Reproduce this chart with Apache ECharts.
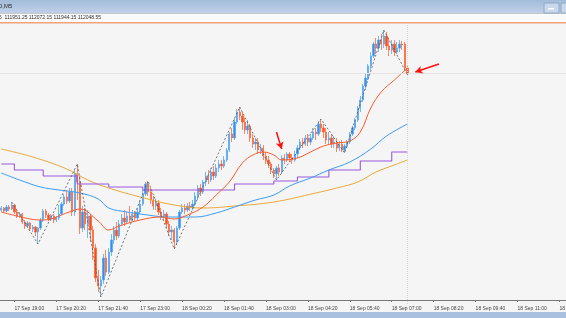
<!DOCTYPE html>
<html>
<head>
<meta charset="utf-8">
<script src="https://cdn.jsdelivr.net/npm/echarts/dist/echarts.min.js"></script>
<style>
  html, body { margin: 0; padding: 0; background: #f5f5f5; }
  #main { width: 566px; height: 318px; }
</style>
</head>
<body>
<div id="main"></div>
<script>
// M5 candles, [open, close, low, high], price in chart units
const candles = [
  [90,92,88,94],[92,89,87,93],[89,93,88,95],[93,91,89,95],[91,95,90,98],
  [95,88,86,96],[88,84,82,90],[84,86,82,88],[86,78,76,87],[78,74,71,80],
  [74,77,72,79],[77,71,69,78],[71,73,68,75],[73,68,64,74],[68,72,56,73],
  [72,80,70,82],[80,89,78,91],[89,85,82,91],[85,81,79,87],[81,84,79,86],
  [84,80,77,86],[80,82,78,84],[82,86,80,95],[86,96,85,98],[96,103,94,106],
  [103,99,96,110],[99,108,97,112],[108,88,84,112],[88,126,84,130],[126,118,100,136],
  [118,72,66,124],[72,88,68,94],[88,76,70,92],[76,84,62,90],[84,70,58,86],
  [70,52,40,74],[52,22,18,56],[22,14,8,30],[14,20,3,24],[20,42,16,46],
  [42,28,24,50],[28,48,26,52],[48,60,44,66],[60,70,56,74],[70,64,60,78],
  [64,76,62,80],[76,82,74,86],[82,78,74,90],[78,84,76,88],[84,80,77,94],
  [80,86,78,90],[86,82,79,89],[82,88,80,92],[88,96,86,100],[96,106,94,110],
  [106,116,104,118],[116,108,104,119],[108,100,96,112],[100,94,90,104],[94,97,90,101],
  [97,88,85,100],[88,84,80,92],[84,86,80,90],[86,76,72,88],[76,68,64,79],
  [68,70,60,74],[70,58,51,72],[58,72,55,74],[72,88,70,90],[88,92,86,96],
  [92,90,86,96],[90,94,88,97],[94,92,89,98],[92,96,90,100],[96,104,94,108],
  [104,112,100,115],[112,108,104,116],[108,118,106,120],[118,124,114,128],[124,120,116,130],
  [120,128,118,132],[128,124,120,134],[124,132,122,136],[132,136,128,140],[136,134,130,140],
  [134,140,132,144],[140,150,138,152],[150,166,148,168],[166,162,158,172],[162,178,160,182],
  [178,188,176,191],[188,184,180,193],[184,178,170,188],[178,170,166,182],[170,174,166,180],
  [174,162,158,176],[162,156,152,166],[156,158,150,162],[158,150,146,162],[150,152,146,156],
  [152,144,140,155],[144,140,136,148],[140,136,132,144],[136,130,126,138],[130,126,122,132],
  [126,132,120,134],[132,128,124,136],[128,142,126,145],[142,140,136,146],[140,146,138,148],
  [146,142,138,148],[142,140,136,146],[140,146,138,149],[146,152,142,155],[152,158,150,161],
  [158,156,152,162],[156,162,154,165],[162,158,154,166],[158,162,155,166],[162,168,160,172],
  [168,166,160,172],[166,176,164,179],[176,172,168,181],[172,168,162,176],[168,160,156,172],
  [160,162,156,168],[162,156,152,166],[156,158,152,164],[158,152,148,162],[152,156,149,159],
  [156,150,148,160],[150,154,147,156],[154,158,152,160],[158,166,156,168],[166,172,164,174],
  [172,180,170,182],[180,192,178,194],[192,200,188,204],[200,214,198,216],[214,222,210,226],
  [222,234,220,236],[234,244,230,248],[244,256,242,258],[256,252,246,262],[252,260,248,264],
  [260,256,250,266],[256,264,252,270],[264,254,250,268],[254,250,244,262],[250,256,246,260],
  [256,248,244,260],[248,252,246,258],[252,256,248,260],[256,255,250,259],[256,232,230,258],
  [232,226,225,234]
];

// indicator lines, [bar index, value]
const maFast = [
  [0,88],[11,81],[16,80],[26,88],[30,91],[37,79],[41,70],[45,74],[53,80],[61,83],
  [66,81],[71,85],[77,93],[82,105],[87,118],[92,137],[96,145],[100,148],[104,145],[107,140],
  [113,142],[118,148],[123,154],[128,157],[133,159],[137,168],[141,192],[145,208],[150,220],[155,232]
];
const maMid = [
  [0,127],[7,120],[15,113],[22,110],[30,107],[37,101],[41,92],[48,88],[53,86],[64,83],
  [74,83],[82,87],[89,93],[97,100],[104,105],[110,114],[118,122],[125,130],[133,138],[141,151],
  [147,164],[155,176]
];
const maSlow = [
  [0,151],[12,143],[25,131],[33,120],[41,112],[53,103],[66,95],[77,92],[89,94],[104,98],
  [120,107],[128,112],[136,118],[143,128],[150,135],[155,140]
];
const stepLine = [
  [0,136],[5,130],[16,124],[29,116],[41,113],[54,110],[89,116],[104,119],[113,123],[125,130],
  [137,139],[149,148],[155,148]
];
const zigzag = [
  [4,98],[14,56],[29,136],[38,3],[56,119],[66,51],[91,193],[105,120],[122,181],[131,147],
  [146,270],[155,225]
];
const arrows = [
  [[105,168],[107,151]],
  [[167,236],[158,228]]
];

const tickLabels = [
  '17 Sep 19:00','17 Sep 20:20','17 Sep 21:40','17 Sep 23:00','18 Sep 00:20','18 Sep 01:40',
  '18 Sep 03:00','18 Sep 04:20','18 Sep 05:40','18 Sep 07:00','18 Sep 08:20','18 Sep 09:40',
  '18 Sep 11:00','18 Sep 12:20'
];
const slotCount = 216;   // visible bar slots incl. empty space on the right
const firstTick = 5;
const tickStep = 16;

const slots = [];
for (let i = 0; i < slotCount; i++) slots.push(i);
const isTick = (i) => i >= firstTick && (i - firstTick) % tickStep === 0;

const chartDom = document.getElementById('main');
const myChart = echarts.init(chartDom, null, { renderer: 'canvas' });
let option;
option = {
  animation: false,
  backgroundColor: '#f5f5f5',
  grid: { left: 0, right: 0, top: 24, bottom: 14, containLabel: false, outerBoundsMode: 'none' },
  xAxis: {
    type: 'category',
    data: slots,
    axisLine: { lineStyle: { color: '#777', width: 1 } },
    axisTick: { show: true, alignWithLabel: true, interval: (i) => isTick(i), length: 2, lineStyle: { color: '#777' } },
    axisLabel: {
      interval: (i) => isTick(i),
      formatter: (v, i) => tickLabels[(i - firstTick) / tickStep] || '',
      align: 'left',
      margin: 2,
      fontSize: 5,
      fontFamily: 'Liberation Sans',
      color: '#444',
      hideOverlap: false
    },
    splitLine: { show: false }
  },
  yAxis: {
    type: 'value',
    min: -4,
    max: 276,
    show: false,
    splitLine: { show: false }
  },
  series: [
    {
      type: 'candlestick',
      data: candles,
      barWidth: 1.8,
      itemStyle: {
        color: '#2f90f0',
        color0: '#ff4a14',
        borderColor: '#5aa8f2',
        borderColor0: '#ff6a3c',
        borderWidth: 0.8
      },
      markLine: {
        silent: true,
        symbol: 'none',
        label: { show: false },
        lineStyle: { color: '#d6d6d6', type: 'dotted', width: 1 },
        data: [ { xAxis: 155 }, { yAxis: 227, lineStyle: { color: '#e4e4e4', type: 'solid' } } ]
      },
      z: 2
    },
    {
      type: 'line', data: maSlow, showSymbol: false, smooth: 0.4,
      lineStyle: { color: '#eaa93a', width: 1 }, z: 3
    },
    {
      type: 'line', data: stepLine, showSymbol: false, step: 'end',
      lineStyle: { color: '#9a5ae0', width: 1.1 }, z: 3
    },
    {
      type: 'line', data: maMid, showSymbol: false, smooth: 0.4,
      lineStyle: { color: '#3d9cf2', width: 1 }, z: 3
    },
    {
      type: 'line', data: maFast, showSymbol: false, smooth: 0.4,
      lineStyle: { color: '#ff5a2c', width: 1 }, z: 4
    },
    {
      type: 'line', data: zigzag, showSymbol: false,
      lineStyle: { color: '#555', width: 0.8, type: [2, 2] }, z: 5,
      markLine: {
        silent: true,
        symbol: ['none', 'arrow'],
        symbolSize: [6, 7],
        label: { show: false },
        lineStyle: { color: '#ff1010', width: 1.5, type: 'solid' },
        data: arrows.map((a) => [{ coord: a[0] }, { coord: a[1] }])
      }
    }
  ],
  graphic: [
    { type: 'rect', shape: { x: 0, y: 0, width: 566, height: 13 }, silent: true,
      style: { fill: new echarts.graphic.LinearGradient(0, 0, 0, 1, [
        { offset: 0, color: '#a3bbd9' }, { offset: 1, color: '#bfd1e8' } ]) } },
    { type: 'rect', shape: { x: 0, y: 13, width: 566, height: 9 }, silent: true, style: { fill: '#fbfbfb' } },
    { type: 'rect', shape: { x: 0, y: 13, width: 566, height: 1 }, silent: true, style: { fill: '#c8c8c8' } },
    { type: 'rect', shape: { x: 0, y: 22, width: 566, height: 1.6 }, silent: true, style: { fill: '#f2a17f' } },
    { type: 'rect', shape: { x: 0, y: 312, width: 566, height: 6 }, silent: true, style: { fill: '#a9c1df' } },
    { type: 'text', x: -2, y: 3, silent: true,
      style: { text: 'D,M5', fontSize: 6, fontFamily: 'Liberation Sans', fill: '#2a2a2a' } },
    { type: 'text', x: -1, y: 15.5, silent: true,
      style: { text: '5  111951.25 112072.15 111944.15 112048.55', fontSize: 5, fontFamily: 'Liberation Sans', fill: '#333' } },
    { type: 'rect', shape: { x: 544, y: 3, width: 15, height: 10 }, silent: true,
      style: { fill: '#c9d8ea', stroke: '#8ea8c6', lineWidth: 1 } },
    { type: 'rect', shape: { x: 548, y: 8, width: 6, height: 1.5 }, silent: true, style: { fill: '#ffffff' } },
    { type: 'rect', shape: { x: 561, y: 3, width: 8, height: 10 }, silent: true,
      style: { fill: '#c9d8ea', stroke: '#8ea8c6', lineWidth: 1 } }
  ]
};

option && myChart.setOption(option);
</script>
</body>
</html>
